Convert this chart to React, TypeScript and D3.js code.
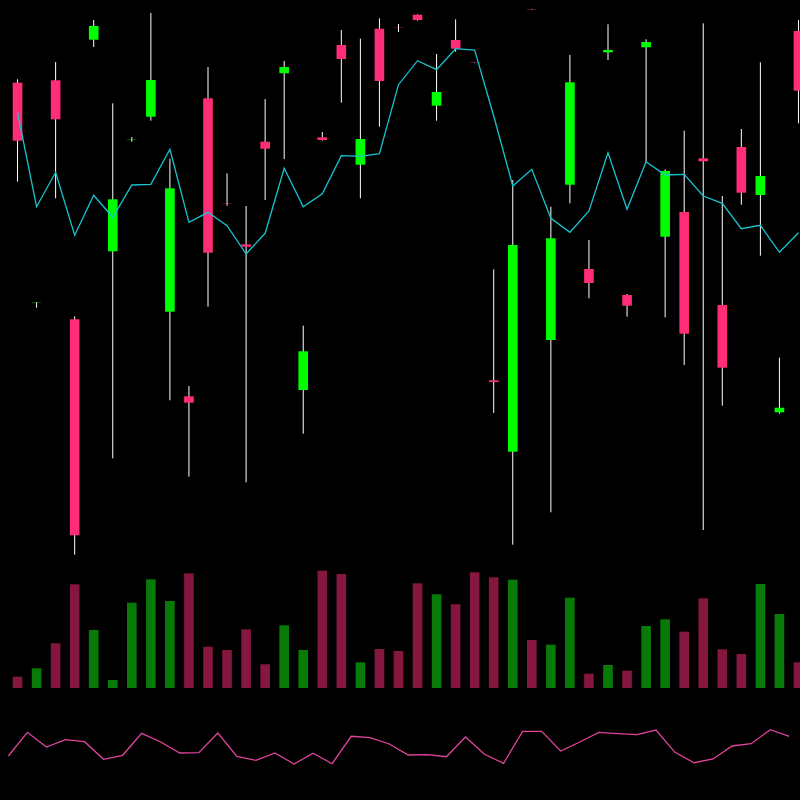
import React from "react";
import * as d3 from "d3";

// Price series (arbitrary price units, higher = up)
const opens = [717.3, 497.6, 719.7, 480.7, 760.3, 548.7, 660.6, 683.3, 488.3, 403.7, 701.7, 596.8, 555.7, 658.3, 726.7, 410, 662.7, 755, 635.3, 771.3, 772.8, 785.3, 694.3, 760, 737.8, 419.7, 348.3, 790.8, 460, 615.3, 531, 747.7, 505, 752.7, 563.3, 588, 641.7, 495, 653, 605, 387.7, 769];
const closes = [659.3, 497.8, 680.7, 264.7, 774, 600.7, 660.8, 720, 611.7, 397.3, 547.3, 596.6, 553.3, 651.3, 733, 448.7, 660, 741, 661, 719, 772.6, 780, 708, 751.3, 737.6, 418.0, 555, 790.6, 561.7, 717.7, 517, 750, 494.3, 758, 629, 466.3, 638.7, 432.3, 607.3, 624, 392.3, 709.3];
const highs = [720.7, 497.8, 738, 483.7, 780, 696.7, 663, 787, 641.3, 414, 733, 626.7, 594, 701, 739, 474.3, 668, 770, 761.3, 781.7, 776, 785.7, 746, 780.7, 738, 530.7, 620, 791, 593.3, 745, 560, 775.7, 506, 760.7, 630.7, 669.3, 776.7, 604, 671, 737.7, 442.3, 780];
const lows = [618.3, 492.3, 601.7, 245.3, 753, 341.7, 658.3, 679.3, 399.7, 323.3, 493.3, 594.3, 317.7, 600, 641, 366.3, 659.3, 697.3, 601.7, 673.3, 768, 779.3, 679.3, 748.3, 737.4, 387, 255.3, 790.4, 287.7, 596.7, 501.7, 740, 483.3, 638.3, 482.7, 435, 270, 394.3, 595.3, 544.3, 386.3, 676.7];
const movingAverage = [687.7, 593.3, 627.7, 564.7, 604.7, 582.7, 615, 615.7, 650.7, 577.7, 587.7, 574.3, 546, 566.7, 631.7, 593.3, 606.3, 644.3, 643.7, 646.3, 715.3, 739.3, 730.3, 751.3, 750, 684, 614, 630.7, 581.7, 567.7, 589, 647.3, 590.7, 638.3, 625, 625.7, 604, 596.7, 571.3, 574.7, 547.7, 567.3];
const volumes = [11.3, 19.7, 44.7, 103.7, 58, 8, 85.3, 108.7, 87, 114.7, 41.3, 38, 58.7, 23.7, 62.7, 38, 117.3, 114, 25.7, 39, 37, 104.7, 93.7, 83.7, 115.7, 110.7, 108.3, 48, 43.3, 90.3, 14.3, 23, 17.3, 62, 68.7, 56.3, 89.7, 38.7, 34, 104, 74, 25.7];
const oscillator = [24, 47.7, 33, 40.3, 38.3, 20.7, 24.7, 46.7, 38, 27, 27.3, 47, 23.7, 19.7, 27, 16, 26.7, 16.3, 43.7, 42.3, 36, 25, 25.3, 23.3, 43, 25.7, 16.7, 48.7, 48.7, 29, 38, 47.7, 46.3, 45.3, 50, 27.7, 17.3, 21, 34, 36.3, 50.3, 43.7];

const UP = "#00ff00";
const DOWN = "#ff2d78";
const VOL_UP = "#087a08";
const VOL_DOWN = "#851640";
const MA_COLOR = "#17c4d0";
const OSC_COLOR = "#e0449c";

export default function App() {
  const n = opens.length;
  const idx = d3.range(n);
  const x = d3.scaleBand<number>().domain(idx).range([8, 808]);
  const xOsc = d3.scaleBand<number>().domain(idx).range([-1.2, 798.8]);
  const y = d3.scaleLinear().domain([0, 800]).range([800, 0]);
  const yVol = d3.scaleLinear().domain([0, 120]).range([688, 568]);
  const yOsc = d3.scaleLinear().domain([0, 60]).range([780, 720]);
  const cx = (i: number) => (x(i) as number) + x.bandwidth() / 2;
  const ox = (i: number) => (xOsc(i) as number) + xOsc.bandwidth() / 2;
  const bw = x.bandwidth() * 0.505;

  const maPath = d3
    .line<number>()
    .x((_, i) => cx(i))
    .y((d) => y(d))(movingAverage) as string;
  const oscPath = d3
    .line<number>()
    .x((_, i) => ox(i))
    .y((d) => yOsc(d))(oscillator) as string;

  return (
    <svg
      width={800}
      height={800}
      style={{ position: "fixed", left: 0, top: 0, background: "#000" }}
    >
      <rect x={0} y={0} width={800} height={800} fill="#000" />
      {idx.map((i) => {
        const up = closes[i] >= opens[i];
        const top = y(Math.max(opens[i], closes[i]));
        const bot = y(Math.min(opens[i], closes[i]));
        return (
          <g key={"c" + i}>
            <line
              x1={cx(i)}
              x2={cx(i)}
              y1={y(highs[i])}
              y2={y(lows[i])}
              stroke="#ffffff"
              strokeWidth={1}
            />
            <rect
              x={cx(i) - bw / 2}
              y={top}
              width={bw}
              height={Math.max(bot - top, 0.3)}
              fill={up ? UP : DOWN}
            />
          </g>
        );
      })}
      <path d={maPath} fill="none" stroke={MA_COLOR} strokeWidth={1.3} />
      {idx.map((i) => {
        const up = closes[i] >= opens[i];
        return (
          <rect
            key={"v" + i}
            x={cx(i) - bw / 2}
            y={yVol(volumes[i])}
            width={bw}
            height={yVol(0) - yVol(volumes[i])}
            fill={up ? VOL_UP : VOL_DOWN}
          />
        );
      })}
      <path d={oscPath} fill="none" stroke={OSC_COLOR} strokeWidth={1.3} />
    </svg>
  );
}
